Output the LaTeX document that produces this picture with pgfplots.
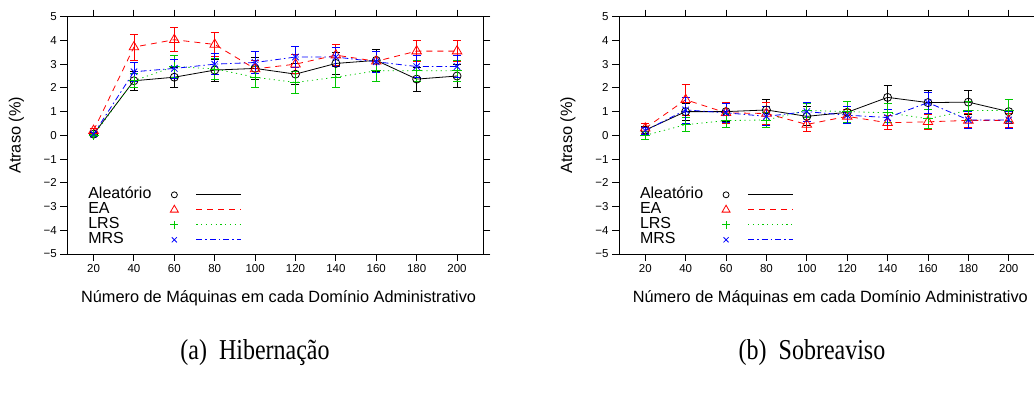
\documentclass[border=0pt]{standalone}
\usepackage{fontspec}
\setmainfont{Liberation Sans}
\newfontfamily\capfont{Liberation Serif}
\usepackage{pgfplots}
\pgfplotsset{compat=1.18}
\definecolor{gpgreen}{RGB}{0,200,0}
\definecolor{gpred}{RGB}{255,0,0}
\definecolor{gpblue}{RGB}{0,0,255}

\pgfplotstableread{
x y e
20 0.05 0.06
40 2.30 0.40
60 2.45 0.42
80 2.75 0.46
100 2.82 0.45
120 2.58 0.45
140 3.03 0.45
160 3.16 0.48
180 2.37 0.50
200 2.50 0.47
}\hibAle
\pgfplotstableread{
x y e
20 0.20 0.10
40 3.72 0.55
60 4.03 0.50
80 3.83 0.50
100 2.80 0.35
120 3.00 0.40
140 3.38 0.45
160 3.12 0.40
180 3.55 0.45
200 3.55 0.45
}\hibEA
\pgfplotstableread{
x y e
20 0.00 0.06
40 2.30 0.30
60 2.90 0.45
80 2.80 0.45
100 2.45 0.45
120 2.23 0.45
140 2.45 0.45
160 2.72 0.43
180 2.72 0.45
200 2.72 0.45
}\hibLRS
\pgfplotstableread{
x y e
20 0.05 0.06
40 2.68 0.40
60 2.82 0.40
80 3.00 0.45
100 3.07 0.45
120 3.30 0.45
140 3.30 0.40
160 3.10 0.45
180 2.90 0.45
200 2.90 0.45
}\hibMRS

\pgfplotstableread{
x y e
20 0.22 0.15
40 1.00 0.35
60 1.00 0.40
80 1.07 0.45
100 0.80 0.40
120 0.97 0.45
140 1.60 0.50
160 1.38 0.50
180 1.40 0.50
200 1.00 0.50
}\sobAle
\pgfplotstableread{
x y e
20 0.30 0.20
40 1.50 0.65
60 0.95 0.45
80 0.92 0.45
100 0.46 0.30
120 0.80 0.30
140 0.53 0.30
160 0.57 0.30
180 0.63 0.30
200 0.63 0.30
}\sobEA
\pgfplotstableread{
x y e
20 0.00 0.15
40 0.45 0.30
60 0.62 0.30
80 0.65 0.30
100 1.05 0.30
120 1.00 0.45
140 0.95 0.40
160 0.70 0.40
180 1.05 0.40
200 1.05 0.45
}\sobLRS
\pgfplotstableread{
x y e
20 0.20 0.15
40 1.07 0.55
60 0.95 0.40
80 0.80 0.40
100 1.00 0.40
120 0.85 0.35
140 0.75 0.35
160 1.38 0.45
180 0.65 0.35
200 0.65 0.35
}\sobMRS

\pgfplotsset{
  gpaxis/.style={
    scale only axis, width=416pt, height=237.3pt,
    xmin=7, xmax=213, ymin=-5, ymax=5,
    xtick={20,40,60,80,100,120,140,160,180,200},
    xticklabels={20,40,60,80,100,120,140,160,180,200},
    ytick={-5,-4,-3,-2,-1,0,1,2,3,4,5},
    yticklabels={−5,−4,−3,−2,−1,0,1,2,3,4,5},
    tick align=outside, major tick length=7pt,
    xtick pos=both, ytick pos=both, xticklabel pos=left, yticklabel pos=left,
    axis line style={line width=0.9pt, black},
    every tick/.style={line width=0.9pt, black},
    tick label style={font=\fontsize{11.5}{12}\selectfont},
    label style={font=\fontsize{16.3}{17}\selectfont},
    xlabel={Número de Máquinas em cada Domínio Administrativo},
    ylabel={Atraso (\%)},
    xlabel style={at={(axis description cs:0.508,-0.1854)}, anchor=center},
    ylabel style={at={(axis description cs:-0.1226,0.5)}, anchor=center},
    legend plot pos=right,
    legend cell align=left,
    legend style={at={(axis description cs:0.0505,0.281)}, anchor=north west,
      draw=none, fill=none, inner sep=0pt, outer sep=0pt,
      column sep=11.9pt, row sep=0pt,
      font=\fontsize{16}{16}\selectfont,
      nodes={inner sep=0pt, text height=11pt, text depth=4pt}},
  },
  eb/.style={
    error bars/y dir=both, error bars/y explicit,
    error bars/error bar style={solid, line width=0.8pt},
    error bars/error mark options={rotate=90, mark size=4pt, solid, line width=0.8pt}},
  sAle/.style={black, line width=0.8pt, mark=o, mark size=4pt, mark options={solid}, eb,
    legend image code/.code={
      \path[draw=none] (0pt,0pt) (78pt,0pt);
      \begin{scope}
        \pgfsetstrokecolor{black}\pgfsetlinewidth{0.9pt}\pgfsetdash{}{0pt}
        \pgfpathmoveto{\pgfpoint{33pt}{0pt}}\pgfpathlineto{\pgfpoint{78pt}{0pt}}\pgfusepath{stroke}
      \end{scope}
      \draw[draw=black, solid, line width=0.8pt, mark=o, mark size=3pt] plot coordinates {(11pt,0pt)};}},
  sEA/.style={gpred, line width=0.8pt, dash pattern=on 6pt off 5pt, mark=triangle, mark size=5.5pt, mark options={solid}, eb,
    legend image code/.code={
      \path[draw=none] (0pt,0pt) (78pt,0pt);
      \begin{scope}
        \pgfsetstrokecolor{gpred}\pgfsetlinewidth{0.8pt}\pgfsetdash{{6pt}{5pt}}{0pt}
        \pgfpathmoveto{\pgfpoint{33pt}{0pt}}\pgfpathlineto{\pgfpoint{78pt}{0pt}}\pgfusepath{stroke}
      \end{scope}
      \draw[draw=gpred, solid, line width=0.8pt, mark=triangle, mark size=4.6pt] plot coordinates {(11pt,0pt)};}},
  sLRS/.style={gpgreen, line width=0.8pt, dash pattern=on 1.2pt off 3.6pt, mark=+, mark size=5pt, mark options={solid}, eb,
    legend image code/.code={
      \path[draw=none] (0pt,0pt) (78pt,0pt);
      \begin{scope}
        \pgfsetstrokecolor{gpgreen}\pgfsetlinewidth{0.8pt}\pgfsetdash{{1.2pt}{3.6pt}}{0pt}
        \pgfpathmoveto{\pgfpoint{33pt}{0pt}}\pgfpathlineto{\pgfpoint{78pt}{0pt}}\pgfusepath{stroke}
      \end{scope}
      \draw[draw=gpgreen, solid, line width=0.8pt, mark=+, mark size=4pt] plot coordinates {(11pt,0pt)};}},
  sMRS/.style={gpblue, line width=0.8pt, dash pattern=on 6pt off 3pt on 1.5pt off 3pt, mark=x, mark size=4.5pt, mark options={solid}, eb,
    legend image code/.code={
      \path[draw=none] (0pt,0pt) (78pt,0pt);
      \begin{scope}
        \pgfsetstrokecolor{gpblue}\pgfsetlinewidth{0.8pt}\pgfsetdash{{6pt}{3pt}{1.5pt}{3pt}}{0pt}
        \pgfpathmoveto{\pgfpoint{33pt}{0pt}}\pgfpathlineto{\pgfpoint{78pt}{0pt}}\pgfusepath{stroke}
      \end{scope}
      \draw[draw=gpblue, solid, line width=0.8pt, mark=x, mark size=3.6pt] plot coordinates {(11pt,0pt)};}},
}

\begin{document}
\begin{tikzpicture}[x=1pt,y=1pt]
\useasboundingbox (0,0) rectangle (1034,394);
\begin{axis}[gpaxis, at={(67.3pt,140pt)}, anchor=south west]
\addplot[sAle] table[x=x,y=y,y error=e]{\hibAle};
\addplot[sEA] table[x=x,y=y,y error=e]{\hibEA};
\addplot[sLRS] table[x=x,y=y,y error=e]{\hibLRS};
\addplot[sMRS] table[x=x,y=y,y error=e]{\hibMRS};
\legend{Aleatório,EA,LRS,MRS}
\end{axis}
\begin{axis}[gpaxis, at={(619pt,140pt)}, anchor=south west]
\addplot[sAle] table[x=x,y=y,y error=e]{\sobAle};
\addplot[sEA] table[x=x,y=y,y error=e]{\sobEA};
\addplot[sLRS] table[x=x,y=y,y error=e]{\sobLRS};
\addplot[sMRS] table[x=x,y=y,y error=e]{\sobMRS};
\legend{Aleatório,EA,LRS,MRS}
\end{axis}
\node at (255pt,41pt) {\scalebox{1}[1.2]{\capfont\fontsize{24}{24}\selectfont (a)\ \ Hibernação}};
\node at (812pt,41pt) {\scalebox{1}[1.2]{\capfont\fontsize{24}{24}\selectfont (b)\ \ Sobreaviso}};
\end{tikzpicture}
\end{document}
